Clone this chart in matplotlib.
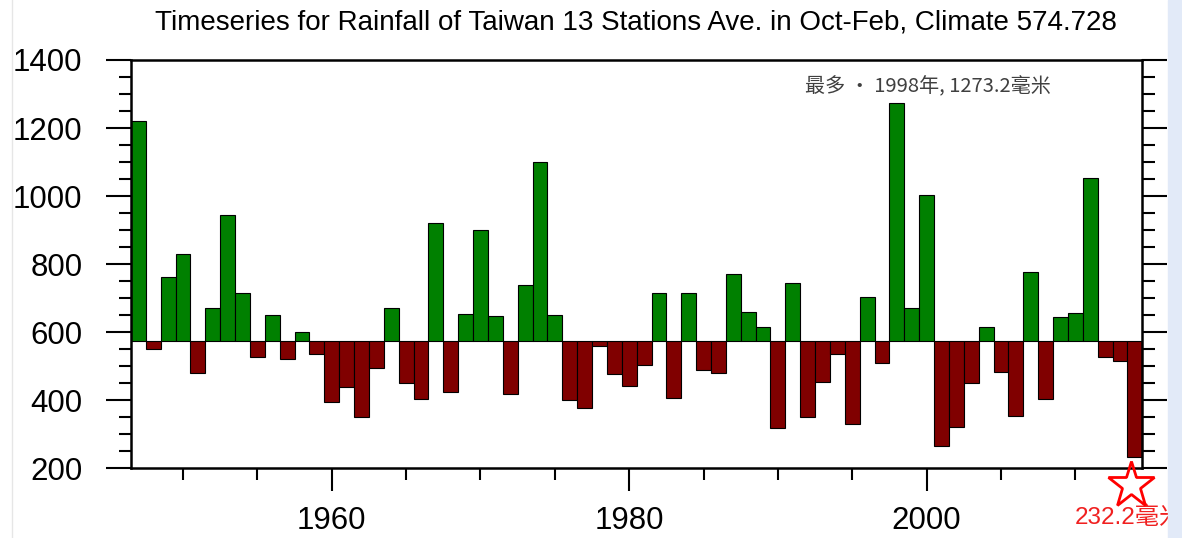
import numpy as np
import matplotlib.pyplot as plt
from matplotlib.ticker import MultipleLocator
from matplotlib.transforms import offset_copy
from matplotlib.patches import Rectangle

plt.rcParams['font.family'] = ['Liberation Sans', 'Noto Sans CJK TC', 'DejaVu Sans']

# Oct-Feb rainfall, Taiwan 13 stations average (mm)
years = list(range(1947, 2015))
rain = [1220, 552, 762, 830, 481, 672, 944, 716, 528, 650,
        521, 602, 536, 394, 438, 352, 494, 672, 450, 403,
        920, 425, 654, 900, 648, 418, 739, 1099, 650, 401,
        376, 558, 476, 442, 504, 714, 408, 716, 489, 481,
        772, 659, 615, 318, 744, 352, 455, 535, 329, 702,
        509, 1273.2, 672, 1002, 266, 322, 450, 615, 484, 354,
        778, 403, 646, 656, 1053, 528, 516, 232.2]
climate = 574.728

title = "Timeseries for Rainfall of Taiwan 13 Stations Ave. in Oct-Feb, Climate 574.728"
note_max = "最多 · 1998年, 1273.2毫米"
note_min = "232.2毫米"

fig = plt.figure(figsize=(11.82, 5.38), dpi=100)
fig.patches.append(Rectangle((1168 / 1182, 0), 14 / 1182, 1, transform=fig.transFigure,
                             color='#e2eaf8', zorder=0))
fig.add_artist(plt.Line2D([12 / 1182, 12 / 1182], [0, 1], color='#e6e6e6', lw=1))

ax = fig.add_axes([131 / 1182, 1 - 468.3 / 538, (1142.3 - 131) / 1182, (468.3 - 60) / 538])

vals = np.array(rain)
cols = ['#008000' if v >= climate else '#800000' for v in vals]
ax.bar(years, vals - climate, bottom=climate, width=1.0, color=cols,
       edgecolor='black', linewidth=0.8, zorder=2)

ax.set_xlim(1946.5, 2014.5)
ax.set_ylim(200, 1400)
ax.yaxis.set_major_locator(MultipleLocator(200))
ax.yaxis.set_minor_locator(MultipleLocator(50))
ax.xaxis.set_major_locator(MultipleLocator(20))
ax.xaxis.set_minor_locator(MultipleLocator(5))

ax.tick_params(axis='y', which='both', direction='out', left=True, right=True,
               labelright=False, width=1.5)
ax.tick_params(axis='y', which='major', length=18, pad=17, labelsize=22.5)
ax.tick_params(axis='y', which='minor', length=9)
ax.tick_params(axis='x', which='both', direction='out', bottom=True, top=False, width=1.5)
ax.tick_params(axis='x', which='major', length=16.5, pad=11, labelsize=22.5)
ax.tick_params(axis='x', which='minor', length=8.5)
for s in ax.spines.values():
    s.set_linewidth(1.8)

fig.text(636 / 1182, 1 - 29.3 / 538, title, ha='center', va='baseline', fontsize=20)

ax.text(0.91, 0.935, note_max, transform=ax.transAxes, ha='right', va='center',
        fontsize=14.5, color='#404040', family=['Noto Sans CJK TC', 'DejaVu Sans'])

# star under the last (driest) bar
star_tr = offset_copy(ax.transData, fig=fig, x=-3, y=-20, units='points')
ax.plot(years[-1], rain[-1], marker='*', markersize=35, markerfacecolor='none',
        markeredgecolor='red', markeredgewidth=2, transform=star_tr, clip_on=False, zorder=5)
ax.annotate(note_min, xy=(years[-1], rain[-1]), xytext=(-43.5, -48), textcoords='offset points',
            ha='left', va='baseline', fontsize=17.5, color='#f02020',
            family=['Liberation Sans', 'Noto Sans CJK TC'], annotation_clip=False)

fig.savefig('out.png', dpi=100)
